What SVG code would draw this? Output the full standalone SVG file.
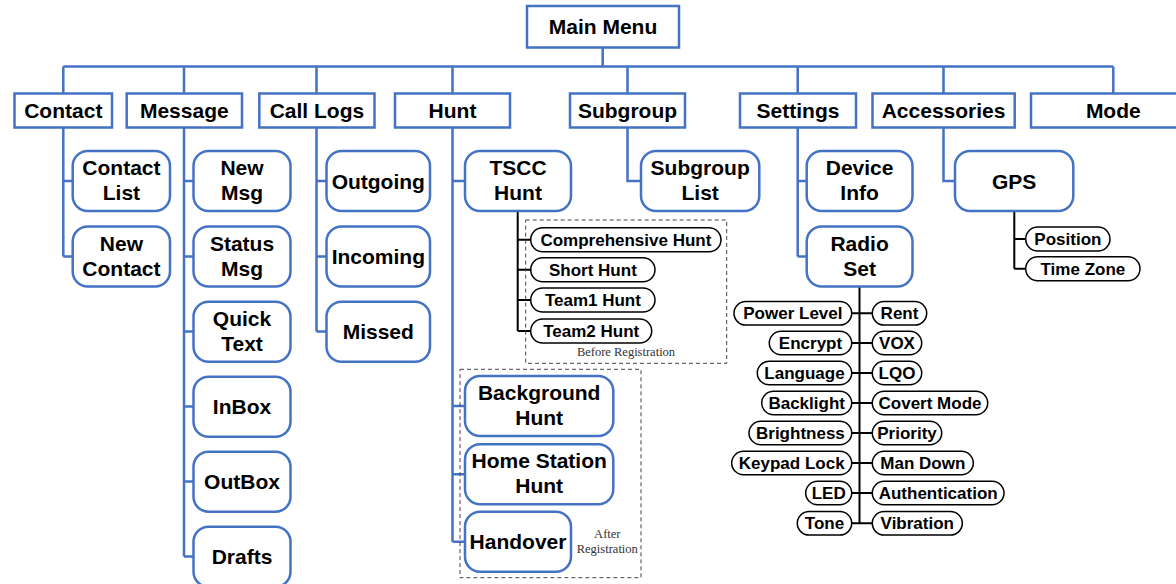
<svg xmlns="http://www.w3.org/2000/svg" width="1176" height="584" viewBox="0 0 1176 584">
<style>
.bx{fill:#fff;stroke:#4472C4;stroke-width:2.5}
.rb{fill:#fff;stroke:#4472C4;stroke-width:2.5}
.pl{fill:#fff;stroke:#000;stroke-width:1.5}
.t{font-family:"Liberation Sans",Arial,sans-serif;font-weight:bold;font-size:21px;fill:#000;text-anchor:middle}
.ts{font-family:"Liberation Sans",Arial,sans-serif;font-weight:bold;font-size:17px;fill:#000;text-anchor:middle}
.nt{font-family:"Liberation Serif","Times New Roman",serif;font-size:12.5px;fill:#333;text-anchor:middle}
.bl{fill:none;stroke:#4472C4;stroke-width:2.5}
.bk{fill:none;stroke:#000;stroke-width:2}
.ds{fill:none;stroke:#444;stroke-width:1;stroke-dasharray:4 3}
</style>
<rect width="1176" height="584" fill="#fff"/>
<g id="connectors">
<path class="bl" d="M602.7 47.7V66.5M63.3 66.5H1113.3M63.3 66.5V93.5M184 66.5V93.5M316.5 66.5V93.5M452.5 66.5V93.5M627.5 66.5V93.5M797.7 66.5V93.5M943.5 66.5V93.5M1113.3 66.5V93.5"/>
<path class="bl" d="M63.3 127.7V256.5M63.3 181H72.7M63.3 256.5H72.7"/>
<path class="bl" d="M184 127.7V556.5M184 181H193.5M184 256.5H193.5M184 331.5H193.5M184 406.5H193.5M184 481.5H193.5M184 556.5H193.5"/>
<path class="bl" d="M316.5 127.7V331.5M316.5 181H326.5M316.5 256.5H326.5M316.5 331.5H326.5"/>
<path class="bl" d="M452.5 127.7V541.7M452.5 181H465M452.5 406H465M452.5 474.3H465M452.5 541.7H465"/>
<path class="bl" d="M627.5 127.7V181H641"/>
<path class="bl" d="M797.7 127.7V256.5M797.7 181H806.7M797.7 256.5H806.7"/>
<path class="bl" d="M943.5 127.7V181H955"/>
<path class="bk" d="M517.7 211V331M517.7 239.7H530.7M517.7 269.7H530.7M517.7 300H530.7M517.7 331H530.7"/>
<path class="bk" d="M1014.3 211V268.7M1014.3 239H1025.7M1014.3 268.7H1025.7"/>
<path class="bk" stroke-width="2.5" d="M859.5 286.5V523.3"/>
<path class="bk" d="M851.7 313.3H872.3M851.7 343H872.3M851.7 373H872.3M851.7 403H872.3M851.7 433H872.3M851.7 463H872.3M851.7 493H872.3M851.7 523.3H872.3"/>
</g>
<g id="groups">
<rect class="ds" x="525.7" y="220" width="201" height="143.3"/>
<text class="nt" x="626" y="355.5">Before Registration</text>
<rect class="ds" x="460" y="369.3" width="181" height="208.4"/>
<text class="nt" x="607.3" y="538">After</text>
<text class="nt" x="607.3" y="553">Registration</text>
</g>
<g id="main-menu"><rect class="bx" stroke-width="4" x="527" y="6" width="152" height="41.5"/><text class="t" x="603" y="34">Main Menu</text></g>
<g id="contact"><rect class="bx" x="14.5" y="93.5" width="97.5" height="34"/><text class="t" x="63.3" y="117.5">Contact</text></g>
<g id="message"><rect class="bx" x="126.7" y="93.5" width="115.3" height="34"/><text class="t" x="184.3" y="117.5">Message</text></g>
<g id="call-logs"><rect class="bx" x="259.3" y="93.5" width="115.2" height="34"/><text class="t" x="316.9" y="117.5">Call Logs</text></g>
<g id="hunt"><rect class="bx" x="395" y="93.5" width="115" height="34"/><text class="t" x="452.5" y="117.5">Hunt</text></g>
<g id="subgroup"><rect class="bx" x="570" y="93.5" width="115" height="34"/><text class="t" x="627.5" y="117.5">Subgroup</text></g>
<g id="settings"><rect class="bx" x="740" y="93.5" width="116" height="34"/><text class="t" x="798" y="117.5">Settings</text></g>
<g id="accessories"><rect class="bx" x="872.5" y="93.5" width="142.2" height="34"/><text class="t" x="943.6" y="117.5">Accessories</text></g>
<g id="mode"><rect class="bx" x="1031" y="93.5" width="164" height="34"/><text class="t" x="1113.3" y="117.5">Mode</text></g>

<g id="contact-list"><rect class="rb" x="72.7" y="151" width="97.3" height="60" rx="15"/><text class="t" x="121.4" y="175">Contact</text><text class="t" x="121.4" y="200">List</text></g>
<g id="new-contact"><rect class="rb" x="72.7" y="226.5" width="97.3" height="60" rx="15"/><text class="t" x="121.4" y="250.5">New</text><text class="t" x="121.4" y="275.5">Contact</text></g>

<g id="new-msg"><rect class="rb" x="193.5" y="151" width="97" height="60" rx="15"/><text class="t" x="242" y="175">New</text><text class="t" x="242" y="200">Msg</text></g>
<g id="status-msg"><rect class="rb" x="193.5" y="226.5" width="97" height="60" rx="15"/><text class="t" x="242" y="250.5">Status</text><text class="t" x="242" y="275.5">Msg</text></g>
<g id="quick-text"><rect class="rb" x="193.5" y="301.7" width="97" height="60" rx="15"/><text class="t" x="242" y="325.7">Quick</text><text class="t" x="242" y="350.7">Text</text></g>
<g id="inbox"><rect class="rb" x="193.5" y="376.7" width="97" height="60" rx="15"/><text class="t" x="242" y="414">InBox</text></g>
<g id="outbox"><rect class="rb" x="193.5" y="451.7" width="97" height="60" rx="15"/><text class="t" x="242" y="489">OutBox</text></g>
<g id="drafts"><rect class="rb" x="193.5" y="526.7" width="97" height="60" rx="15"/><text class="t" x="242" y="564">Drafts</text></g>

<g id="outgoing"><rect class="rb" x="326.5" y="151" width="103.5" height="60" rx="15"/><text class="t" x="378.3" y="188.5">Outgoing</text></g>
<g id="incoming"><rect class="rb" x="326.5" y="226.5" width="103.5" height="60" rx="15"/><text class="t" x="378.3" y="264">Incoming</text></g>
<g id="missed"><rect class="rb" x="326.5" y="301.7" width="103.5" height="60" rx="15"/><text class="t" x="378.3" y="339">Missed</text></g>

<g id="tscc-hunt"><rect class="rb" x="465" y="151" width="106" height="60" rx="15"/><text class="t" x="518" y="175">TSCC</text><text class="t" x="518" y="200">Hunt</text></g>
<g id="comprehensive-hunt"><rect class="pl" x="530.7" y="227.7" width="190.3" height="24" rx="12"/><text class="ts" x="625.9" y="245.8">Comprehensive Hunt</text></g>
<g id="short-hunt"><rect class="pl" x="530.7" y="257.7" width="124.3" height="24" rx="12"/><text class="ts" x="592.9" y="275.8">Short Hunt</text></g>
<g id="team1-hunt"><rect class="pl" x="530.7" y="288" width="124.3" height="24" rx="12"/><text class="ts" x="592.9" y="306.1">Team1 Hunt</text></g>
<g id="team2-hunt"><rect class="pl" x="530.7" y="319" width="121" height="24" rx="12"/><text class="ts" x="591.2" y="337.1">Team2 Hunt</text></g>
<g id="background-hunt"><rect class="rb" x="465" y="376" width="148.3" height="60" rx="15"/><text class="t" x="539.2" y="400">Background</text><text class="t" x="539.2" y="425">Hunt</text></g>
<g id="home-station-hunt"><rect class="rb" x="465" y="444.3" width="148.3" height="60" rx="15"/><text class="t" x="539.2" y="468.3">Home Station</text><text class="t" x="539.2" y="493.3">Hunt</text></g>
<g id="handover"><rect class="rb" x="465" y="511.7" width="106" height="60" rx="15"/><text class="t" x="518" y="549.2">Handover</text></g>

<g id="subgroup-list"><rect class="rb" x="641" y="151" width="118.3" height="60" rx="15"/><text class="t" x="700.2" y="175">Subgroup</text><text class="t" x="700.2" y="200">List</text></g>

<g id="device-info"><rect class="rb" x="806.7" y="151" width="105.8" height="60" rx="15"/><text class="t" x="859.6" y="175">Device</text><text class="t" x="859.6" y="200">Info</text></g>
<g id="radio-set"><rect class="rb" x="806.7" y="226.5" width="105.8" height="60" rx="15"/><text class="t" x="859.6" y="250.5">Radio</text><text class="t" x="859.6" y="275.5">Set</text></g>

<g id="gps"><rect class="rb" x="955" y="151" width="118.3" height="60" rx="15"/><text class="t" x="1014.2" y="188.5">GPS</text></g>
<g id="position"><rect class="pl" x="1025.7" y="227" width="84.3" height="24" rx="12"/><text class="ts" x="1067.9" y="245.1">Position</text></g>
<g id="time-zone"><rect class="pl" x="1025.7" y="256.7" width="114.3" height="24" rx="12"/><text class="ts" x="1082.9" y="274.8">Time Zone</text></g>

<g id="power-level"><rect class="pl" x="734" y="301.5" width="117.7" height="23.6" rx="11.8"/><text class="ts" x="792.9" y="319.4">Power Level</text></g>
<g id="encrypt"><rect class="pl" x="769.3" y="331.2" width="82.4" height="23.6" rx="11.8"/><text class="ts" x="810.5" y="349.1">Encrypt</text></g>
<g id="language"><rect class="pl" x="757.3" y="361.2" width="94.4" height="23.6" rx="11.8"/><text class="ts" x="804.5" y="379.1">Language</text></g>
<g id="backlight"><rect class="pl" x="761.7" y="391.2" width="90" height="23.6" rx="11.8"/><text class="ts" x="806.7" y="409.1">Backlight</text></g>
<g id="brightness"><rect class="pl" x="749" y="421.2" width="102.7" height="23.6" rx="11.8"/><text class="ts" x="800.4" y="439.1">Brightness</text></g>
<g id="keypad-lock"><rect class="pl" x="731.7" y="451.2" width="120" height="23.6" rx="11.8"/><text class="ts" x="791.7" y="469.1">Keypad Lock</text></g>
<g id="led"><rect class="pl" x="805.7" y="481.2" width="46" height="23.6" rx="11.8"/><text class="ts" x="828.7" y="499.1">LED</text></g>
<g id="tone"><rect class="pl" x="797.3" y="511.5" width="54.4" height="23.6" rx="11.8"/><text class="ts" x="824.5" y="529.4">Tone</text></g>

<g id="rent"><rect class="pl" x="872.3" y="301.5" width="54.4" height="23.6" rx="11.8"/><text class="ts" x="899.5" y="319.4">Rent</text></g>
<g id="vox"><rect class="pl" x="872.3" y="331.2" width="49.4" height="23.6" rx="11.8"/><text class="ts" x="897" y="349.1">VOX</text></g>
<g id="lqo"><rect class="pl" x="872.3" y="361.2" width="49.4" height="23.6" rx="11.8"/><text class="ts" x="897" y="379.1">LQO</text></g>
<g id="covert-mode"><rect class="pl" x="872.3" y="391.2" width="115.4" height="23.6" rx="11.8"/><text class="ts" x="930" y="409.1">Covert Mode</text></g>
<g id="priority"><rect class="pl" x="872.3" y="421.2" width="69.4" height="23.6" rx="11.8"/><text class="ts" x="907" y="439.1">Priority</text></g>
<g id="man-down"><rect class="pl" x="872.3" y="451.2" width="101" height="23.6" rx="11.8"/><text class="ts" x="922.8" y="469.1">Man Down</text></g>
<g id="authentication"><rect class="pl" x="872.3" y="481.2" width="131.7" height="23.6" rx="11.8"/><text class="ts" x="938.2" y="499.1">Authentication</text></g>
<g id="vibration"><rect class="pl" x="872.3" y="511.5" width="90" height="23.6" rx="11.8"/><text class="ts" x="917.3" y="529.4">Vibration</text></g>
</svg>
